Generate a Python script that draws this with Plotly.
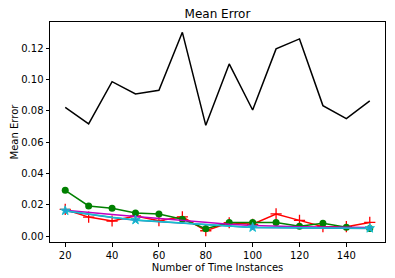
import plotly.graph_objects as go

x = [20, 30, 40, 50, 60, 70, 80, 90, 100, 110, 120, 130, 140, 150]
black = [0.0822, 0.0716, 0.0986, 0.0907, 0.0931, 0.1301, 0.0707, 0.1099, 0.0805, 0.1195, 0.1259, 0.0833, 0.0750, 0.0863]
red = [0.0170, 0.0121, 0.0096, 0.0128, 0.0098, 0.0123, 0.0034, 0.0085, 0.0075, 0.0141, 0.0100, 0.0060, 0.0060, 0.0087]
green = [0.0292, 0.0192, 0.0177, 0.0147, 0.0141, 0.0107, 0.0047, 0.0087, 0.0087, 0.0086, 0.0062, 0.0081, 0.0056, 0.0049]
blue = [0.0160, 0.0138, 0.0118, 0.0101, 0.0091, 0.0083, 0.0073, 0.0063, 0.0054, 0.0053, 0.0052, 0.0051, 0.0050, 0.0049]
magenta = [0.0165, 0.0150, 0.0138, 0.0125, 0.0112, 0.0100, 0.0088, 0.0075, 0.0068, 0.0062, 0.0060, 0.0058, 0.0056, 0.0055]
cyan = [0.0162, 0.0140, 0.0120, 0.0103, 0.0093, 0.0085, 0.0075, 0.0065, 0.0055, 0.0054, 0.0053, 0.0052, 0.0051, 0.0050]
star_idx = [0, 3, 8, 13]

x_ticks = [20, 40, 60, 80, 100, 120, 140]
y_ticks = [0.00, 0.02, 0.04, 0.06, 0.08, 0.10, 0.12]

fig = go.Figure()
fig.add_trace(go.Scatter(x=x, y=black, mode="lines", line=dict(color="black", width=1.5)))
fig.add_trace(go.Scatter(x=x, y=red, mode="lines+markers", line=dict(color="#ff0000", width=1.5),
                         marker=dict(symbol="cross-thin", size=8, line=dict(color="#ff0000", width=1.3))))
fig.add_trace(go.Scatter(x=x, y=green, mode="lines+markers", line=dict(color="#008000", width=1.5),
                         marker=dict(symbol="circle", size=7, color="#008000")))
fig.add_trace(go.Scatter(x=x, y=blue, mode="lines", line=dict(color="#1f77b4", width=1.5)))
fig.add_trace(go.Scatter(x=x, y=magenta, mode="lines", line=dict(color="#bf00bf", width=1.5)))
fig.add_trace(go.Scatter(x=x, y=cyan, mode="lines", line=dict(color="#17becf", width=1.5)))
fig.add_trace(go.Scatter(x=[x[i] for i in star_idx], y=[cyan[i] for i in star_idx], mode="markers",
                         marker=dict(symbol="star", size=7, color="#1f9fd0", line=dict(color="#17becf", width=1))))

axis_common = dict(showline=True, mirror=True, linecolor="black", linewidth=1, ticks="outside",
                   ticklen=3.5, tickwidth=1, tickcolor="black", showgrid=False, zeroline=False,
                   automargin=False,
                   tickfont=dict(family="DejaVu Sans", size=10, color="black"))

# page body adds an 8px offset; margins compensate so the plot box lands at x 50..385, y 22..242
fig.update_layout(
    width=395, height=278,
    margin=dict(l=42, r=18, t=14, b=44, autoexpand=False),
    paper_bgcolor="white", plot_bgcolor="white",
    showlegend=False,
    title=dict(text="Mean Error", xref="paper", x=0.5, xanchor="center",
               yref="container", y=0.964, yanchor="bottom",
               automargin=False,
               font=dict(family="DejaVu Sans", size=12, color="black")),
    xaxis=dict(range=[13.5, 156.5], tickvals=x_ticks,
               title=dict(text="Number of Time Instances", standoff=4,
                          font=dict(family="DejaVu Sans", size=10, color="black")),
               **axis_common),
    yaxis=dict(range=[-0.0038, 0.1367], tickvals=y_ticks, tickformat=".2f",
               title=dict(text="Mean Error", standoff=0,
                          font=dict(family="DejaVu Sans", size=10, color="black")),
               **axis_common),
)

fig.write_html("out.html")
